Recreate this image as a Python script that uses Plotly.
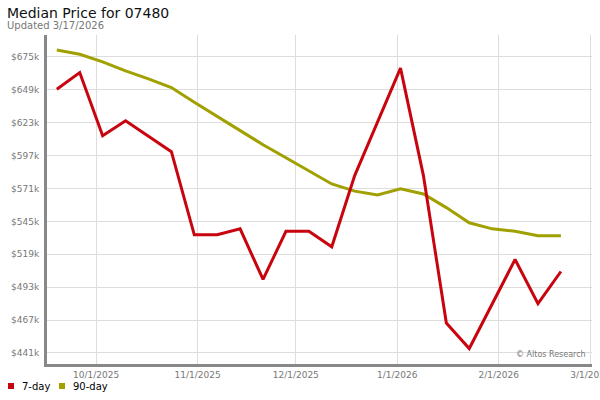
import plotly.graph_objects as go
from datetime import date, timedelta

# ---- data ----
start = date(2025, 9, 19)
dates = [(start + timedelta(days=7 * i)).isoformat() for i in range(23)]
day7 = [649.5, 662.6, 612.7, 624.5, 612.3, 600.1, 534.4, 534.4, 539.1, 499.1,
        537.2, 537.2, 524.9, 581.2, 623.7, 666.1, 581.2, 464.7, 444.5, 479.7,
        514.9, 480.0, 505.4]
day90 = [680.5, 677.1, 671.1, 664.0, 657.6, 650.8, 639.1, 628.1, 616.6, 605.6,
         595.3, 585.1, 574.6, 568.9, 565.9, 570.7, 566.7, 555.9, 543.9, 539.1,
         537.2, 533.6, 533.6]
y_ticks = [441, 467, 493, 519, 545, 571, 597, 623, 649, 675]
y_labels = ["$%dk" % v for v in y_ticks]
x_ticks = ["2025-10-01", "2025-11-01", "2025-12-01", "2026-01-01", "2026-02-01", "2026-03-01"]
x_labels = ["10/1/2025", "11/1/2025", "12/1/2025", "1/1/2026", "2/1/2026", "3/1/2026"]

RED = "#c8050f"
OLIVE = "#a0a000"
FONT = "DejaVu Sans"

L, R, T, B = 47, 8, 35, 36
PW, PH = 600 - L - R, 400 - T - B


def px(x):
    return (x - L) / PW


def py(y):
    return (400 - B - y) / PH


fig = go.Figure()
fig.add_trace(go.Scatter(x=dates, y=day90, mode="lines", name="90-day",
                         line=dict(color=OLIVE, width=3), showlegend=False))
fig.add_trace(go.Scatter(x=dates, y=day7, mode="lines", name="7-day",
                         line=dict(color=RED, width=3), showlegend=False))

fig.update_layout(
    width=600, height=400,
    margin=dict(l=L, r=R, t=T, b=B, autoexpand=False),
    paper_bgcolor="white", plot_bgcolor="white",
    font=dict(family=FONT, size=9, color="#777"),
    xaxis=dict(
        type="date",
        range=["2025-09-16", "2026-03-01 12:00"],
        tickvals=x_ticks, ticktext=x_labels,
        showgrid=True, gridcolor="#dddddd", gridwidth=1,
        showline=True, linecolor="#888", linewidth=3,
        ticks="", zeroline=False, automargin=False,
        tickfont=dict(family=FONT, size=9, color="#777"),
        ticklabeloverflow="allow",
    ),
    yaxis=dict(
        range=[432.3, 692.3],
        tickvals=y_ticks, ticktext=y_labels,
        showgrid=True, gridcolor="#dddddd", gridwidth=1,
        showline=True, linecolor="#888", linewidth=3,
        ticks="", zeroline=False, automargin=False,
        tickfont=dict(family=FONT, size=9, color="#777"),
        ticklabelstandoff=3,
    ),
    showlegend=False,
)

annotations = [
    dict(text="Median Price for 07480", x=px(5), y=py(13), xref="paper", yref="paper",
         xanchor="left", yanchor="middle", showarrow=False,
         font=dict(family=FONT, size=14, color="#111")),
    dict(text="Updated 3/17/2026", x=px(5), y=py(25), xref="paper", yref="paper",
         xanchor="left", yanchor="middle", showarrow=False,
         font=dict(family=FONT, size=10, color="#777")),
    dict(text="© Altos Research", x=px(588), y=py(354), xref="paper", yref="paper",
         xanchor="right", yanchor="middle", showarrow=False,
         font=dict(family=FONT, size=8, color="#777")),
    dict(text="7-day", x=px(20), y=py(386), xref="paper", yref="paper",
         xanchor="left", yanchor="middle", showarrow=False,
         font=dict(family=FONT, size=10, color="#000")),
    dict(text="90-day", x=px(71), y=py(386), xref="paper", yref="paper",
         xanchor="left", yanchor="middle", showarrow=False,
         font=dict(family=FONT, size=10, color="#000")),
]
fig.update_layout(annotations=annotations)

shapes = [
    dict(type="rect", xref="paper", yref="paper", x0=px(8), x1=px(14), y0=py(389), y1=py(383),
         fillcolor=RED, line=dict(width=0)),
    dict(type="rect", xref="paper", yref="paper", x0=px(59), x1=px(65), y0=py(389), y1=py(383),
         fillcolor=OLIVE, line=dict(width=0)),
]
fig.update_layout(shapes=shapes)

fig.write_html("out.html", config={"displayModeBar": False},
               post_script="document.body.style.margin='0';")
